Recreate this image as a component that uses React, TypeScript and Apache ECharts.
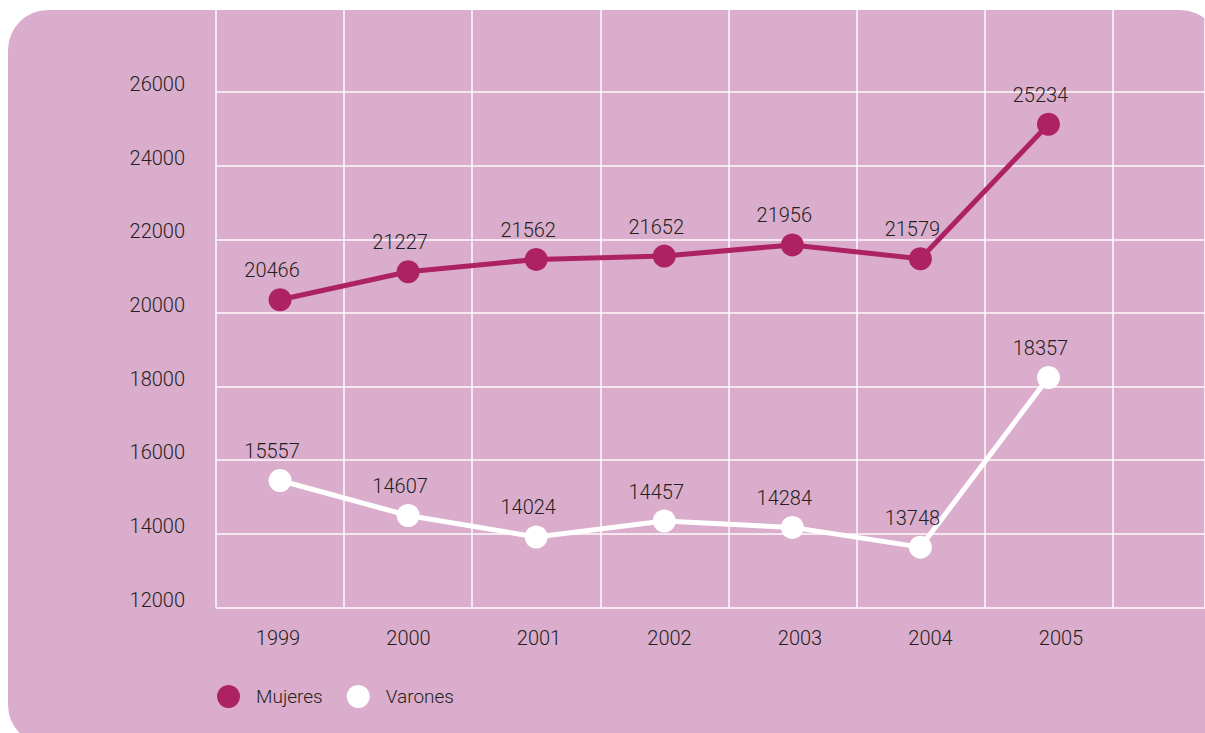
import React, { useEffect, useRef } from "react";
import * as echarts from "echarts";

const years = ["1999", "2000", "2001", "2002", "2003", "2004", "2005"];
const mujeres = [20466, 21227, 21562, 21652, 21956, 21579, 25234];
const varones = [15557, 14607, 14024, 14457, 14284, 13748, 18357];
const yMin = 12000;
const yMax = 26000;
const yStep = 2000;

const PINK_BG = "#DBADCC";
const MAGENTA = "#AD2262";
const TEXT = "#231F20";
const FONT = "Roboto, 'Liberation Sans', sans-serif";

export default function App() {
  const ref = useRef<HTMLDivElement>(null);
  useEffect(() => {
    if (!ref.current) return;
    const chart = echarts.init(ref.current, undefined, { renderer: "svg" });
    const gridLine = { show: true, lineStyle: { color: "rgba(255,255,255,0.95)", width: 1.5 } };
    const hiddenAxis = { show: false };
    const labelStyle = { color: TEXT, fontSize: 20, fontFamily: FONT, fontWeight: 300 };
    chart.setOption({
      animation: false,
      backgroundColor: "#ffffff",
      textStyle: { fontFamily: FONT },
      graphic: [
        {
          type: "rect",
          z: -10,
          shape: { x: 8, y: 10, width: 1212, height: 735, r: 40 },
          style: { fill: PINK_BG },
        },
      ],
      grid: [
        { left: 216, right: 0, top: 92, height: 515.5 },
        { left: 216, right: 0, top: 10, height: 597.5 },
        { left: 216, width: 896.5, top: 96, height: 515.5 },
        { left: 212.75, width: 913.5, top: 92, height: 515.5 },
      ],
      xAxis: [
        { gridIndex: 0, type: "value", ...hiddenAxis },
        {
          gridIndex: 1,
          type: "value",
          min: 0,
          max: 7.72,
          interval: 1,
          axisLine: { show: false },
          axisTick: { show: false },
          axisLabel: { show: false },
          splitLine: gridLine,
        },
        {
          gridIndex: 2,
          type: "category",
          data: years,
          boundaryGap: true,
          axisLine: { show: false },
          axisTick: { show: false },
          axisLabel: { show: false },
          splitLine: { show: false },
        },
        {
          gridIndex: 3,
          type: "category",
          data: years,
          boundaryGap: true,
          axisLine: { show: false },
          axisTick: { show: false },
          axisLabel: { show: true, ...labelStyle, margin: 20 },
          splitLine: { show: false },
        },
      ],
      yAxis: [
        {
          gridIndex: 0,
          type: "value",
          min: yMin,
          max: yMax,
          interval: yStep,
          axisLine: { show: false },
          axisTick: { show: false },
          axisLabel: {
            ...labelStyle,
            margin: 31,
            verticalAlign: "bottom",
            lineHeight: 16,
            formatter: (v: number) => String(v),
          },
          splitLine: gridLine,
        },
        { gridIndex: 1, type: "value", ...hiddenAxis, splitLine: { show: false } },
        {
          gridIndex: 2,
          type: "value",
          min: yMin,
          max: yMax,
          interval: yStep,
          show: false,
          splitLine: { show: false },
        },
        { gridIndex: 3, type: "value", ...hiddenAxis, splitLine: { show: false } },
      ],
      legend: {
        left: 212,
        top: 680,
        icon: "circle",
        itemWidth: 23,
        itemHeight: 23,
        itemGap: 24,
        textStyle: { ...labelStyle, fontSize: 19, padding: [0, 0, 0, 11] },
        data: [
          { name: "Mujeres", itemStyle: { color: MAGENTA } },
          { name: "Varones", itemStyle: { color: "#ffffff" } },
        ],
      },
      series: [
        {
          name: "Mujeres",
          type: "line",
          xAxisIndex: 2,
          yAxisIndex: 2,
          data: mujeres,
          symbol: "circle",
          symbolSize: 23,
          lineStyle: { color: MAGENTA, width: 5 },
          itemStyle: { color: MAGENTA },
          label: { show: true, position: "top", distance: 8, offset: [-8, 0], ...labelStyle },
        },
        {
          name: "Varones",
          type: "line",
          xAxisIndex: 2,
          yAxisIndex: 2,
          data: varones,
          symbol: "circle",
          symbolSize: 23,
          lineStyle: { color: "#ffffff", width: 5 },
          itemStyle: { color: "#ffffff" },
          label: { show: true, position: "top", distance: 8, offset: [-8, 0], ...labelStyle },
        },
      ],
    });
    return () => chart.dispose();
  }, []);
  return (
    <div
      ref={ref}
      style={{ position: "absolute", left: 0, top: 0, width: 1205, height: 733 }}
    />
  );
}
